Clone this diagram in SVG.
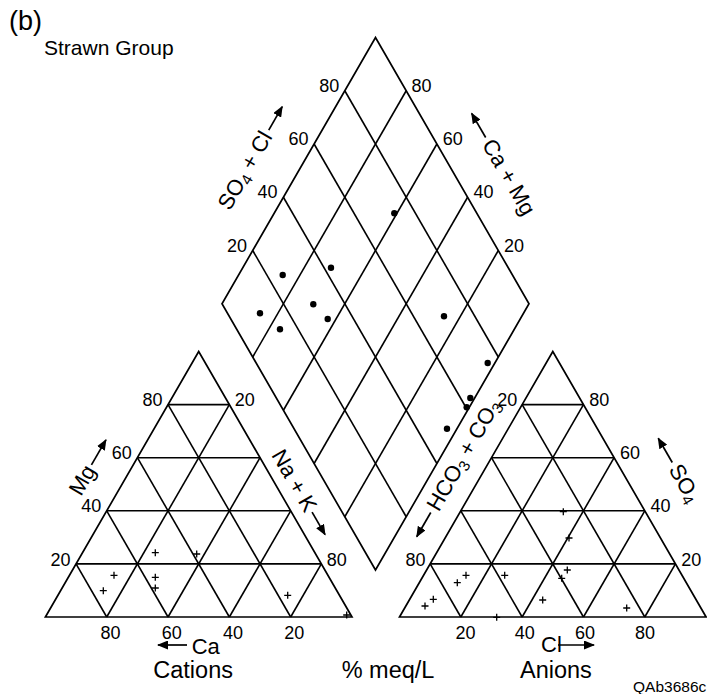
<svg xmlns="http://www.w3.org/2000/svg" xmlns:xlink="http://www.w3.org/1999/xlink" width="707" height="694" viewBox="0 0 707 694">
<style>
  .frame { fill: none; stroke: #000; stroke-width: 1.7; stroke-linejoin: miter; }
  .grid { stroke: #000; stroke-width: 1.6; fill: none; }
  .num { font-family: "Liberation Sans", Arial, sans-serif; font-size: 18px; fill: #000; }
  .ax { font-family: "Liberation Sans", Arial, sans-serif; font-size: 22px; fill: #000; }
  .big { font-family: "Liberation Sans", Arial, sans-serif; font-size: 23.5px; fill: #000; }
  .arr { stroke: #000; stroke-width: 1.7; fill: none; marker-end: url(#ah); }
  .dot { fill: #000; }
  .cross { stroke: #000; stroke-width: 1.3; fill: none; }
</style>
<defs>
  <marker id="ah" markerUnits="userSpaceOnUse" markerWidth="11" markerHeight="9" refX="10" refY="4.5" orient="auto">
    <path d="M0,0 L11,4.5 L0,9 Z" fill="#000"/>
  </marker>
  <path id="pl" d="M-3.5,0 H3.5 M0,-3.5 V3.5"/>
</defs>

<text x="9" y="30" font-family="Liberation Sans, Arial, sans-serif" font-size="27">(b)</text>
<text x="44" y="55" font-family="Liberation Sans, Arial, sans-serif" font-size="21">Strawn Group</text>

<!-- Cations triangle -->
<g id="cations">
  <polygon class="frame" points="45.4,617 352,617 198.7,351.5"/>
  <g class="grid">
    <line x1="76.06" y1="563.9" x2="321.34" y2="563.9"/>
    <line x1="106.72" y1="510.8" x2="290.68" y2="510.8"/>
    <line x1="137.38" y1="457.7" x2="260.02" y2="457.7"/>
    <line x1="168.04" y1="404.6" x2="229.36" y2="404.6"/>
    <line x1="106.72" y1="617" x2="229.36" y2="404.6"/>
    <line x1="168.04" y1="617" x2="260.02" y2="457.7"/>
    <line x1="229.36" y1="617" x2="290.68" y2="510.8"/>
    <line x1="290.68" y1="617" x2="321.34" y2="563.9"/>
    <line x1="106.72" y1="617" x2="76.06" y2="563.9"/>
    <line x1="168.04" y1="617" x2="106.72" y2="510.8"/>
    <line x1="229.36" y1="617" x2="137.38" y2="457.7"/>
    <line x1="290.68" y1="617" x2="168.04" y2="404.6"/>
  </g>
  <g class="num" text-anchor="end">
    <text x="162.5" y="406">80</text>
    <text x="131.8" y="459">60</text>
    <text x="101.2" y="512.3">40</text>
    <text x="70.5" y="565.5">20</text>
  </g>
  <g class="num">
    <text x="234.8" y="406">20</text>
    <text x="326.8" y="565.5">80</text>
  </g>
  <g class="num" text-anchor="middle">
    <text x="110.4" y="638.5">80</text>
    <text x="171.7" y="638.5">60</text>
    <text x="233" y="638.5">40</text>
    <text x="294.2" y="638.5">20</text>
  </g>
  <g class="cross">
    <use xlink:href="#pl" x="155.3" y="552.7"/>
    <use xlink:href="#pl" x="196.7" y="554"/>
    <use xlink:href="#pl" x="114" y="575.3"/>
    <use xlink:href="#pl" x="103.3" y="590.7"/>
    <use xlink:href="#pl" x="155.3" y="577.3"/>
    <use xlink:href="#pl" x="155.3" y="588"/>
    <use xlink:href="#pl" x="287.7" y="595.3"/>
    <use xlink:href="#pl" x="346.7" y="615"/>
  </g>
</g>

<!-- Anions triangle -->
<g id="anions">
  <polygon class="frame" points="399.5,617 706.1,617 552.8,351.5"/>
  <g class="grid">
    <line x1="430.16" y1="563.9" x2="675.44" y2="563.9"/>
    <line x1="460.82" y1="510.8" x2="644.78" y2="510.8"/>
    <line x1="491.48" y1="457.7" x2="614.12" y2="457.7"/>
    <line x1="522.14" y1="404.6" x2="583.46" y2="404.6"/>
    <line x1="460.82" y1="617" x2="583.46" y2="404.6"/>
    <line x1="522.14" y1="617" x2="614.12" y2="457.7"/>
    <line x1="583.46" y1="617" x2="644.78" y2="510.8"/>
    <line x1="644.78" y1="617" x2="675.44" y2="563.9"/>
    <line x1="460.82" y1="617" x2="430.16" y2="563.9"/>
    <line x1="522.14" y1="617" x2="460.82" y2="510.8"/>
    <line x1="583.46" y1="617" x2="491.48" y2="457.7"/>
    <line x1="644.78" y1="617" x2="522.14" y2="404.6"/>
  </g>
  <g class="num" text-anchor="end">
    <text x="517.3" y="406">20</text>
    <text x="425.5" y="565.5">80</text>
  </g>
  <g class="num">
    <text x="589.3" y="406">80</text>
    <text x="620" y="459">60</text>
    <text x="650.6" y="512.3">40</text>
    <text x="681.3" y="565.5">20</text>
  </g>
  <g class="num" text-anchor="middle">
    <text x="465.5" y="638.5">20</text>
    <text x="524.8" y="638.5">40</text>
    <text x="585" y="638.5">60</text>
    <text x="645" y="638.5">80</text>
  </g>
  <g class="cross">
    <use xlink:href="#pl" x="563.3" y="511.7"/>
    <use xlink:href="#pl" x="569" y="538"/>
    <use xlink:href="#pl" x="567.3" y="570"/>
    <use xlink:href="#pl" x="561.7" y="578.3"/>
    <use xlink:href="#pl" x="504.7" y="575.3"/>
    <use xlink:href="#pl" x="466" y="575.3"/>
    <use xlink:href="#pl" x="457.3" y="582.7"/>
    <use xlink:href="#pl" x="433.3" y="599.3"/>
    <use xlink:href="#pl" x="425" y="606"/>
    <use xlink:href="#pl" x="542.7" y="600"/>
    <use xlink:href="#pl" x="626.7" y="608"/>
    <use xlink:href="#pl" x="496.7" y="617.3"/>
  </g>
</g>

<!-- Diamond -->
<g id="diamond">
  <polygon class="frame" points="375.5,570 222,303.75 375.5,37.5 529,303.75"/>
  <g class="grid">
    <line x1="344.8" y1="516.75" x2="498.3" y2="250.5"/>
    <line x1="314.1" y1="463.5" x2="467.6" y2="197.25"/>
    <line x1="283.4" y1="410.25" x2="436.9" y2="144"/>
    <line x1="252.7" y1="357" x2="406.2" y2="90.75"/>
    <line x1="406.2" y1="516.75" x2="252.7" y2="250.5"/>
    <line x1="436.9" y1="463.5" x2="283.4" y2="197.25"/>
    <line x1="467.6" y1="410.25" x2="314.1" y2="144"/>
    <line x1="498.3" y1="357" x2="344.8" y2="90.75"/>
  </g>
  <g class="num" text-anchor="end">
    <text x="247" y="251.5">20</text>
    <text x="277.6" y="198.3">40</text>
    <text x="308.5" y="145">60</text>
    <text x="339.2" y="91.8">80</text>
  </g>
  <g class="num">
    <text x="411.5" y="91.8">80</text>
    <text x="442.7" y="145">60</text>
    <text x="473.4" y="198.3">40</text>
    <text x="504" y="251.5">20</text>
  </g>
  <g class="dot">
    <circle cx="394.3" cy="213.3" r="3.2"/>
    <circle cx="282.7" cy="275" r="3.2"/>
    <circle cx="331" cy="267.7" r="3.2"/>
    <circle cx="260" cy="313.3" r="3.2"/>
    <circle cx="313.3" cy="304.3" r="3.2"/>
    <circle cx="327.7" cy="319" r="3.2"/>
    <circle cx="280" cy="329.3" r="3.2"/>
    <circle cx="444" cy="316.3" r="3.2"/>
    <circle cx="487.7" cy="363" r="3.2"/>
    <circle cx="470.3" cy="398" r="3.2"/>
    <circle cx="466.7" cy="407.3" r="3.2"/>
    <circle cx="447" cy="428.7" r="3.2"/>
  </g>
</g>

<!-- Axis labels with arrows -->
<g id="connectors">
  <g transform="translate(81,497) rotate(-60)">
    <text class="ax" x="0" y="0">Mg</text>
    <line class="arr" x1="33" y1="-7" x2="62" y2="-7"/>
  </g>
  <g transform="translate(271,455) rotate(60)">
    <text class="ax" x="0" y="0">Na + K</text>
    <line class="arr" x1="70" y1="-7" x2="96" y2="-7"/>
  </g>
  <g transform="translate(229.8,211.5) rotate(-60)">
    <text class="ax" x="0" y="0">SO<tspan font-size="15.5" dy="4">4</tspan><tspan dy="-4"> + Cl</tspan></text>
    <line class="arr" x1="90" y1="-7" x2="117" y2="-7"/>
  </g>
  <g transform="translate(465.6,116.8) rotate(60)">
    <line class="arr" x1="28" y1="-7" x2="0" y2="-7"/>
    <text class="ax" x="32" y="0">Ca + Mg</text>
  </g>
  <g transform="translate(422.8,540.2) rotate(-60)">
    <line class="arr" x1="28" y1="-7" x2="0" y2="-7"/>
    <text class="ax" x="32" y="0">HCO<tspan font-size="15.5" dy="4">3</tspan><tspan dy="-4"> + CO</tspan><tspan font-size="15.5" dy="4">3</tspan></text>
  </g>
  <g transform="translate(652.2,441.8) rotate(60)">
    <line class="arr" x1="28" y1="-7" x2="0" y2="-7"/>
    <text class="ax" x="32" y="0">SO<tspan font-size="15.5" dy="4">4</tspan></text>
  </g>
  <line class="arr" x1="187" y1="645" x2="158" y2="645"/>
  <text class="ax" x="191.7" y="654">Ca</text>
  <text class="ax" x="541" y="652">Cl</text>
  <line class="arr" x1="558" y1="645" x2="594" y2="645"/>
</g>

<text class="big" x="153.3" y="678">Cations</text>
<text class="big" x="341.7" y="678">% meq/L</text>
<text class="big" x="520" y="678">Anions</text>
<text x="633" y="692" font-family="Liberation Sans, Arial, sans-serif" font-size="15.5">QAb3686c</text>
</svg>
